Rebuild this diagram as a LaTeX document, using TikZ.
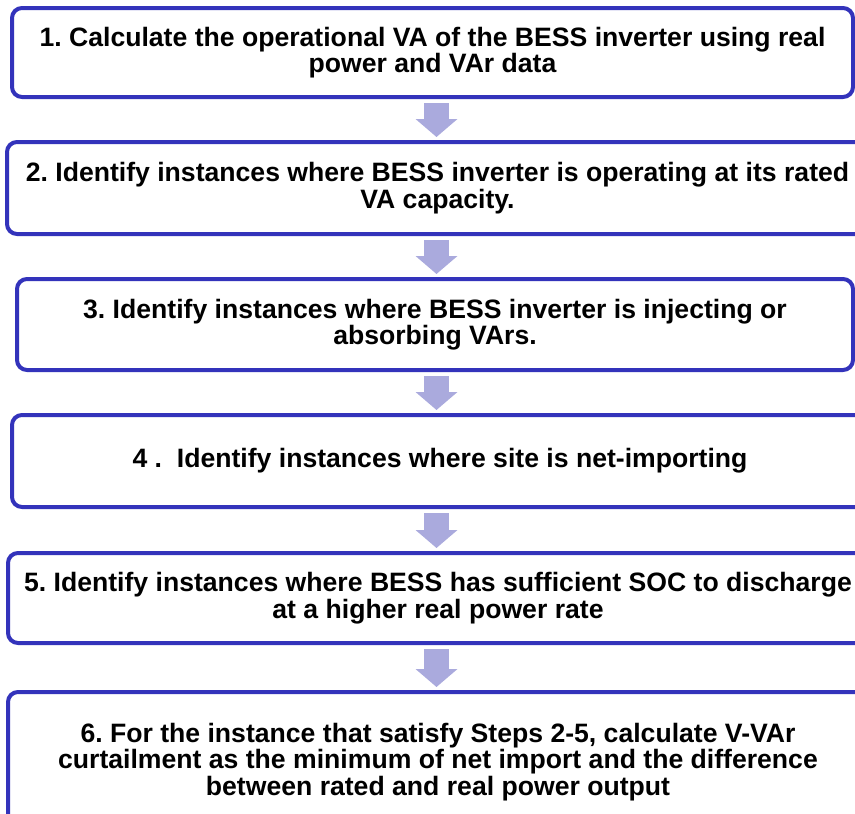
\documentclass[tikz,border=0pt]{standalone}
\usepackage{fontspec}
\setmainfont{Liberation Sans}
\usetikzlibrary{arrows.meta,calc}
\definecolor{stepblue}{RGB}{51,51,187}
\definecolor{steparrow}{RGB}{170,170,221}

\begin{document}
\begin{tikzpicture}[x=1pt,y=-1pt,
  stepbox/.style={draw=stepblue,line width=4pt,rounded corners=10pt,align=center,inner sep=0pt,
    font=\bfseries\fontsize{26.6}{26.5}\selectfont\frenchspacing},
  flow/.style={draw=steparrow,line width=25pt,-{Triangle[width=41pt,length=18pt]},
    shorten <=4pt,shorten >=3pt}]
\clip (0,0) rectangle (855,814);
\coordinate (ax) at (436.5,0);
% steps
\node[stepbox,minimum width=841pt,minimum height=89pt] (s1) at (432.5,52.5)
  {1. Calculate the operational VA of the BESS inverter using real\\power and VAr data};
\node[stepbox,minimum width=861pt,minimum height=92pt] (s2) at (437.5,188)
  {2. Identify instances where BESS inverter is operating at its rated\\VA capacity.};
\node[stepbox,minimum width=836pt,minimum height=91pt] (s3) at (435,324.5)
  {3. Identify instances where BESS inverter is injecting or\\absorbing VArs.};
\node[stepbox,minimum width=856pt,minimum height=92pt] (s4) at (440,461)
  {4 .\ \ Identify instances where site is net-importing};
\node[stepbox,minimum width=860pt,minimum height=90pt] (s5) at (438,598)
  {5. Identify instances where BESS has sufficient SOC to discharge\\at a higher real power rate};
\node[stepbox,minimum width=860pt,minimum height=140pt] (s6) at (438,762)
  {6. For the instance that satisfy Steps 2-5, calculate V-VAr\\curtailment as the minimum of net import and the difference\\between rated and real power output};
% arrows between steps
\foreach \a/\b in {s1/s2,s2/s3,s3/s4,s4/s5,s5/s6}
  \draw[flow] (\a.south -| ax) -- (\b.north -| ax);
\end{tikzpicture}
\end{document}
